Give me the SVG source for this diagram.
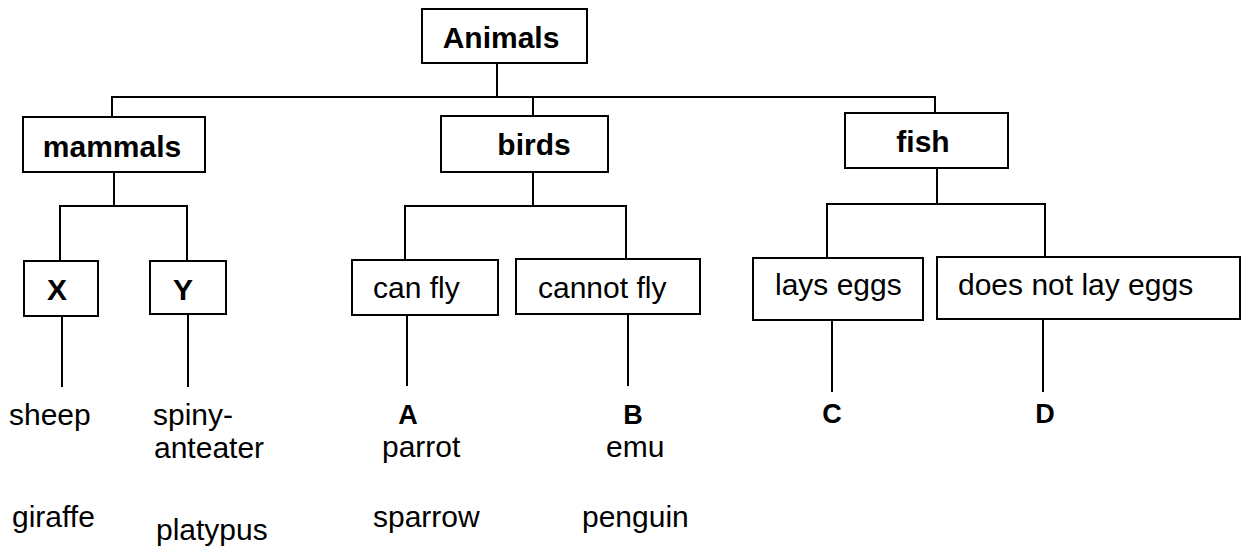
<svg xmlns="http://www.w3.org/2000/svg" width="1245" height="550" viewBox="0 0 1245 550">
<style>
.box{fill:#fff;stroke:#000;stroke-width:2}
.c{fill:none;stroke:#000;stroke-width:2}
text{font-family:"Liberation Sans",Arial,sans-serif;fill:#000}
.b{font-weight:bold;font-size:30px;text-anchor:middle}
.r{font-size:30px}
.l{font-weight:bold;font-size:27px;text-anchor:middle}
</style>
<rect width="1245" height="550" fill="#fff"/>
<g id="connectors">
<path class="c" d="M497 63V97M112 117V97H935V113M533 97V116"/>
<path class="c" d="M114 172V206M60 261V206H187V261"/>
<path class="c" d="M533 172V206M405 260V206H626V259"/>
<path class="c" d="M937 168V204M827 258V204H1045V257"/>
<path class="c" d="M62 316V387M188 314V387M407 315V386M628 314V386M832 320V392M1043 319V392"/>
</g>
<g id="animals"><rect class="box" x="422" y="9" width="165" height="54"/><text class="b" x="501" y="48">Animals</text></g>
<g id="mammals"><rect class="box" x="23" y="117" width="182" height="55"/><text class="b" x="112" y="157">mammals</text></g>
<g id="birds"><rect class="box" x="441" y="116" width="167" height="56"/><text class="b" x="534" y="155">birds</text></g>
<g id="fish"><rect class="box" x="845" y="113" width="163" height="55"/><text class="b" x="923" y="152">fish</text></g>
<g id="x"><rect class="box" x="24" y="261" width="74" height="55"/><text class="b" x="57" y="300">X</text></g>
<g id="y"><rect class="box" x="150" y="261" width="76" height="53"/><text class="b" x="183" y="300">Y</text></g>
<g id="canfly"><rect class="box" x="352" y="260" width="146" height="55"/><text class="r" x="373" y="298">can fly</text></g>
<g id="cannotfly"><rect class="box" x="516" y="259" width="184" height="55"/><text class="r" x="538" y="298">cannot fly</text></g>
<g id="layseggs"><rect class="box" x="753" y="258" width="170" height="62"/><text class="r" x="775" y="295">lays eggs</text></g>
<g id="nolayeggs"><rect class="box" x="937" y="257" width="303" height="62"/><text class="r" x="958" y="295">does not lay eggs</text></g>
<g id="leaves">
<text class="r" x="9" y="425">sheep</text>
<text class="r" x="12" y="527">giraffe</text>
<text class="r" x="153" y="425">spiny-</text>
<text class="r" x="154" y="458">anteater</text>
<text class="r" x="156" y="540">platypus</text>
<text class="l" x="408" y="424">A</text>
<text class="r" x="382" y="457">parrot</text>
<text class="r" x="373" y="527">sparrow</text>
<text class="l" x="633" y="424">B</text>
<text class="r" x="606" y="457">emu</text>
<text class="r" x="582" y="527">penguin</text>
<text class="l" x="832" y="423">C</text>
<text class="l" x="1045" y="423">D</text>
</g>
</svg>
